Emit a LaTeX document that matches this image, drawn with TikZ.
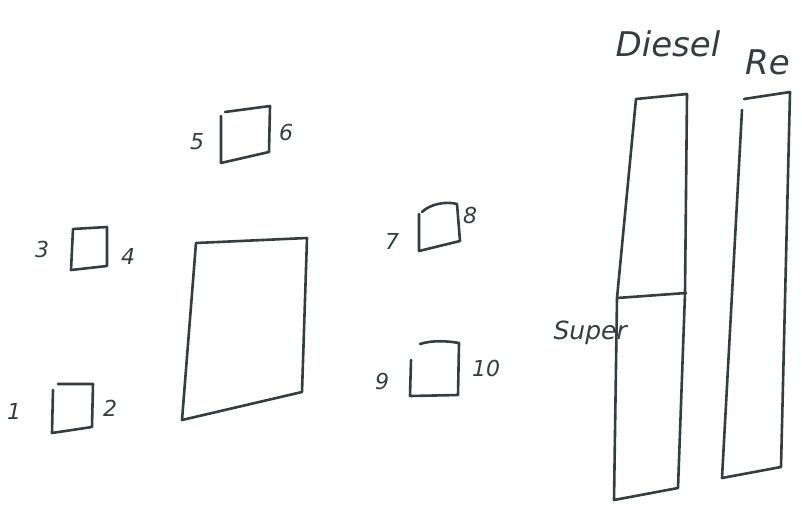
\documentclass[tikz,border=0pt]{standalone}
\usepackage{fontspec}
\setmainfont{DejaVu Sans}
\definecolor{ink}{RGB}{52,62,62}
\begin{document}
\begin{tikzpicture}[x=1pt,y=-1pt,
  pen/.style={draw=ink,line width=2.6pt,line join=round,line cap=round},
  hand/.style={text=ink,font=\itshape\fontsize{22}{22}\selectfont,inner sep=0pt},
  bighand/.style={text=ink,font=\itshape\fontsize{34}{34}\selectfont,inner sep=0pt}]
\useasboundingbox[fill=white] (0,0) rectangle (802,506);

% small boxes
\draw[pen] (58,384) -- (93,384) -- (92,427) -- (52,433) -- (53,390);
\draw[pen] (73,229) -- (107,227) -- (107,266) -- (71,270) -- cycle;
\draw[pen] (225,112) -- (270,106) -- (269,152) -- (221,163) -- (221,116);
\draw[pen] (422,212) .. controls (430,204) and (446,201) .. (457,204) -- (460,241) -- (419,251) -- (419,214);
\draw[pen] (420,344) .. controls (432,340) and (448,341) .. (459,343) -- (458,395) -- (410,396) -- (411,360);

% large block
\draw[pen] (196,243) -- (307,238) -- (302,392) -- (182,420) -- cycle;

% tall columns
\draw[pen] (636,99) -- (687,94) -- (685,293) -- (678,488) -- (614,500) -- (617,298) -- cycle;
\draw[pen] (617,298) -- (686,293);
\draw[pen] (744,99) -- (790,92) -- (781,467) -- (722,478) -- (742,110);

% labels
\node[hand] (n1) at (14,411) {1};
\node[hand] (n2) at (110,408) {2};
\node[hand] (n3) at (42,249) {3};
\node[hand] (n4) at (128,256) {4};
\node[hand] (n5) at (197,142) {5};
\node[hand] (n6) at (286,132) {6};
\node[hand] (n7) at (392,241) {7};
\node[hand] (n8) at (470,215) {8};
\node[hand] (n9) at (382,381) {9};
\node[hand] (n10) at (486,368) {10};
\node[bighand] (diesel) at (668,44) {Diesel};
\node[bighand,anchor=west] (re) at (745,62) {Re};
\node[hand,anchor=east,font=\itshape\fontsize{25}{25}\selectfont] (super) at (627,333) {Super};
\end{tikzpicture}
\end{document}
